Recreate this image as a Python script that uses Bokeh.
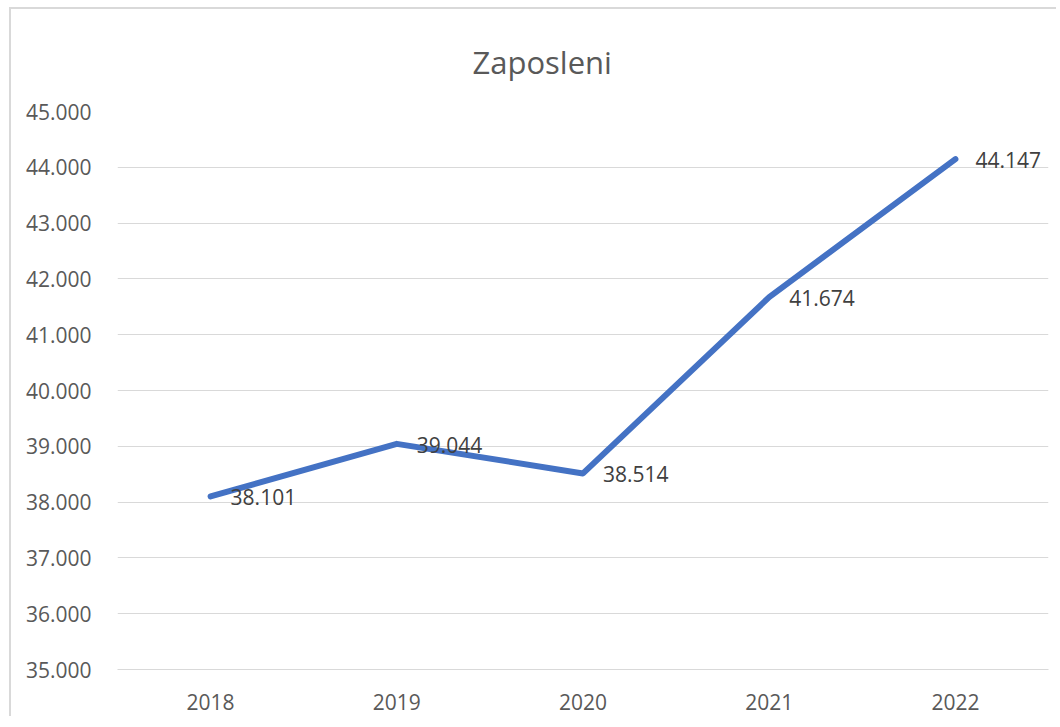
from bokeh.plotting import figure
from bokeh.models import Range1d, FixedTicker, ColumnDataSource
from bokeh.core.properties import value
from bokeh.embed import file_html
from bokeh.resources import INLINE

# ---- data ----
years = ["2018", "2019", "2020", "2021", "2022"]
employed = [38101, 39044, 38514, 41674, 44147]
y_ticks = [35000, 36000, 37000, 38000, 39000, 40000, 41000, 42000, 43000, 44000, 45000]
y_tick_labels = ["35.000", "36.000", "37.000", "38.000", "39.000", "40.000",
                 "41.000", "42.000", "43.000", "44.000", "45.000"]
title_text = "Zaposleni"

FONT = "Open Sans"
GRID = "#d9d9d9"
BLUE = "#4472C4"

data_labels = [f"{v:,}".replace(",", ".") for v in employed]
src = ColumnDataSource(dict(x=years, y=employed, lbl=data_labels))

p = figure(width=1047, height=709, x_range=years, y_range=Range1d(35000, 45000),
           output_backend="svg", toolbar_location=None,
           min_border_left=106, min_border_right=10, min_border_top=97, min_border_bottom=49)
p.margin = (7, 0, 0, 9)
p.styles = {"border-left": "2px solid #d9d9d9", "border-top": "2px solid #d9d9d9"}
p.x_range.range_padding = 0
p.outline_line_color = None
p.background_fill_color = "white"
p.border_fill_color = "white"

# title
p.title.text = title_text
p.title.text_font = FONT
p.title.text_font_size = "31px"
p.title.text_font_style = "normal"
p.title.text_color = "#595959"
p.title.text_line_height = 1.0
p.title.align = "left"
p.title.offset = 355
p.title.standoff = 58

# grid
p.xgrid.grid_line_color = None
p.ygrid.grid_line_color = GRID
p.ygrid.grid_line_width = 1
p.yaxis.ticker = FixedTicker(ticks=y_ticks)
p.yaxis.major_label_overrides = {t: l for t, l in zip(y_ticks, y_tick_labels)}

# axes
for ax in (p.xaxis[0], p.yaxis[0]):
    ax.major_tick_line_color = None
    ax.minor_tick_line_color = None
    ax.major_label_text_font = FONT
    ax.major_label_text_font_size = "21px"
    ax.major_label_text_color = "#595959"
p.yaxis.axis_line_color = None
p.yaxis.major_label_standoff = 20
p.xaxis.axis_line_color = GRID
p.xaxis.axis_line_width = 1
p.xaxis.major_label_standoff = 18

# line
p.line(x="x", y="y", source=src, line_width=6, line_color=BLUE,
       line_join="round", line_cap="round")

# data labels
p.text(x="x", y="y", text="lbl", source=src, x_offset=20, y_offset=1,
       text_font=value(FONT), text_font_size="21px", text_color="#404040",
       text_align="left", text_baseline="middle")

open("out.html", "w").write(file_html(p, INLINE))
